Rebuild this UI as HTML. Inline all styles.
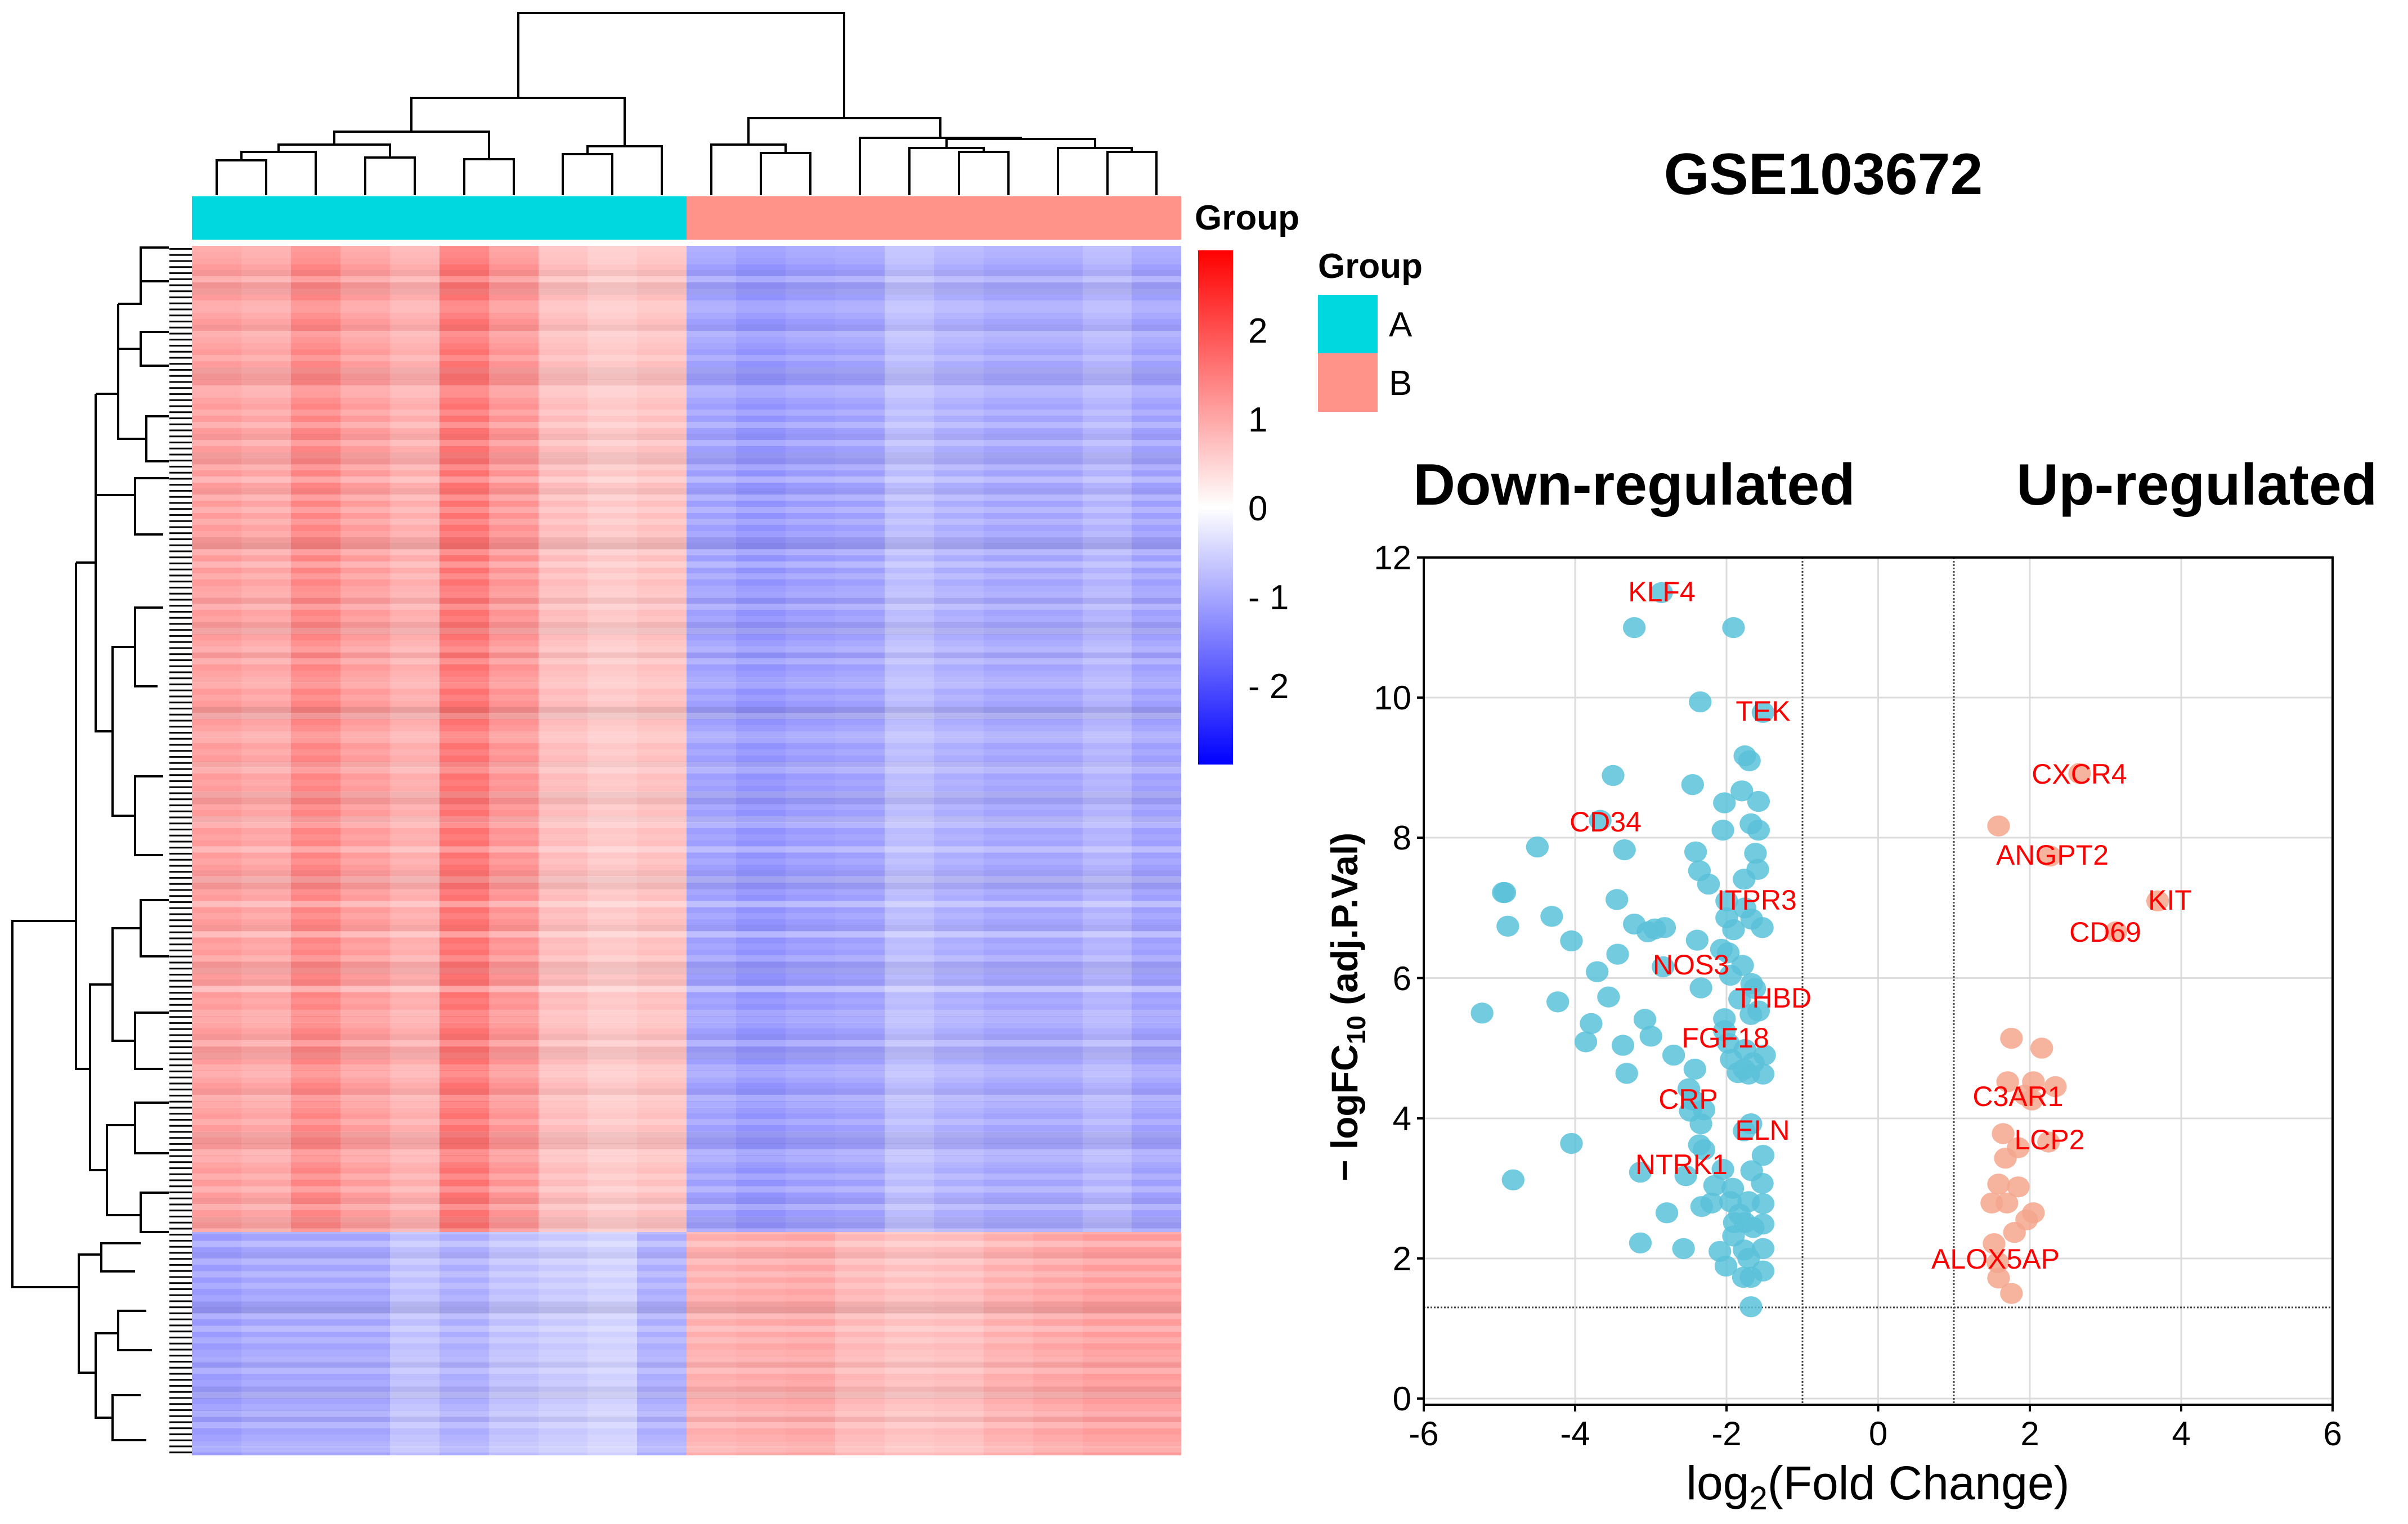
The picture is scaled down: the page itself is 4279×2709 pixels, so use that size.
<!DOCTYPE html>
<html><head><meta charset="utf-8">
<style>
html,body{margin:0;padding:0;background:#fff;}
svg{display:block;}
text{font-family:"Liberation Sans",Arial,sans-serif;}
</style></head>
<body>
<svg id="figsvg" width="4279" height="2709" viewBox="0 0 4279 2709">
<defs>
<linearGradient id="cbgrad" x1="0" y1="1" x2="0" y2="0">
<stop offset="0" stop-color="#0000ff"/><stop offset="0.5" stop-color="#ffffff"/><stop offset="1" stop-color="#ff0000"/>
</linearGradient>
<pattern id="stripes" x="0" y="437" width="4279" height="97" patternUnits="userSpaceOnUse">
<rect x="0" y="0" width="4279" height="11" fill="#fff" opacity="0.18"/>
<rect x="0" y="22" width="4279" height="11" fill="#fff" opacity="0.10"/>
<rect x="0" y="43" width="4279" height="11" fill="#000" opacity="0.04"/>
<rect x="0" y="54" width="4279" height="11" fill="#fff" opacity="0.22"/>
<rect x="0" y="76" width="4279" height="11" fill="#fff" opacity="0.08"/>
</pattern>
<pattern id="stripes2" x="0" y="437" width="88" height="151" patternUnits="userSpaceOnUse">
<rect x="0" y="11" width="88" height="11" fill="#fff" opacity="0.15"/>
<rect x="0" y="65" width="88" height="22" fill="#000" opacity="0.05"/>
<rect x="0" y="108" width="88" height="11" fill="#fff" opacity="0.2"/>
</pattern>
<pattern id="leaves" x="0" y="437" width="40" height="10.75" patternUnits="userSpaceOnUse">
<rect x="0" y="4" width="40" height="3" fill="#000"/>
</pattern>
</defs>

<g id="heatg">
<g>
<rect x="341" y="437" width="88" height="1753" fill="rgb(255,155,155)"/>
<rect x="429" y="437" width="88" height="1753" fill="rgb(255,164,164)"/>
<rect x="517" y="437" width="88" height="1753" fill="rgb(255,132,132)"/>
<rect x="605" y="437" width="88" height="1753" fill="rgb(255,155,155)"/>
<rect x="693" y="437" width="88" height="1753" fill="rgb(255,173,173)"/>
<rect x="781" y="437" width="88" height="1753" fill="rgb(255,114,114)"/>
<rect x="869" y="437" width="88" height="1753" fill="rgb(255,146,146)"/>
<rect x="957" y="437" width="88" height="1753" fill="rgb(255,187,187)"/>
<rect x="1044" y="437" width="88" height="1753" fill="rgb(255,200,200)"/>
<rect x="1132" y="437" width="89" height="1753" fill="rgb(255,191,191)"/>
<rect x="1220" y="437" width="88" height="1753" fill="rgb(159,159,255)"/>
<rect x="1308" y="437" width="88" height="1753" fill="rgb(146,146,255)"/>
<rect x="1396" y="437" width="88" height="1753" fill="rgb(155,155,255)"/>
<rect x="1484" y="437" width="88" height="1753" fill="rgb(159,159,255)"/>
<rect x="1572" y="437" width="88" height="1753" fill="rgb(187,187,255)"/>
<rect x="1660" y="437" width="88" height="1753" fill="rgb(173,173,255)"/>
<rect x="1748" y="437" width="88" height="1753" fill="rgb(164,164,255)"/>
<rect x="1836" y="437" width="88" height="1753" fill="rgb(164,164,255)"/>
<rect x="1924" y="437" width="88" height="1753" fill="rgb(178,178,255)"/>
<rect x="2011" y="437" width="88" height="1753" fill="rgb(159,159,255)"/>
<rect x="341" y="2190" width="88" height="397" fill="rgb(155,155,255)"/>
<rect x="429" y="2190" width="88" height="397" fill="rgb(164,164,255)"/>
<rect x="517" y="2190" width="88" height="397" fill="rgb(164,164,255)"/>
<rect x="605" y="2190" width="88" height="397" fill="rgb(164,164,255)"/>
<rect x="693" y="2190" width="88" height="397" fill="rgb(191,191,255)"/>
<rect x="781" y="2190" width="88" height="397" fill="rgb(173,173,255)"/>
<rect x="869" y="2190" width="88" height="397" fill="rgb(191,191,255)"/>
<rect x="957" y="2190" width="88" height="397" fill="rgb(200,200,255)"/>
<rect x="1044" y="2190" width="88" height="397" fill="rgb(209,209,255)"/>
<rect x="1132" y="2190" width="89" height="397" fill="rgb(173,173,255)"/>
<rect x="1220" y="2190" width="88" height="397" fill="rgb(255,173,173)"/>
<rect x="1308" y="2190" width="88" height="397" fill="rgb(255,168,168)"/>
<rect x="1396" y="2190" width="88" height="397" fill="rgb(255,164,164)"/>
<rect x="1484" y="2190" width="88" height="397" fill="rgb(255,182,182)"/>
<rect x="1572" y="2190" width="88" height="397" fill="rgb(255,191,191)"/>
<rect x="1660" y="2190" width="88" height="397" fill="rgb(255,187,187)"/>
<rect x="1748" y="2190" width="88" height="397" fill="rgb(255,173,173)"/>
<rect x="1836" y="2190" width="88" height="397" fill="rgb(255,164,164)"/>
<rect x="1924" y="2190" width="88" height="397" fill="rgb(255,155,155)"/>
<rect x="2011" y="2190" width="88" height="397" fill="rgb(255,155,155)"/>
<rect x="341" y="437" width="1758" height="2150" fill="url(#stripes)"/>
<rect x="341" y="437" width="1758" height="2150" fill="url(#stripes2)"/>
</g>
<rect x="341" y="349" width="879" height="77" fill="#00d8e0"/>
<rect x="1220" y="349" width="879" height="77" fill="#ff938a"/>
<g stroke="#000" stroke-width="4" fill="none">
<path d="M385,347V285H473V347"/><path d="M429,285V270H561V347"/><path d="M649,347V280H737V347"/>
<path d="M495,270V257H693V280"/><path d="M825,347V283H913V347"/><path d="M594,257V234H869V283"/>
<path d="M1000,347V274H1088V347"/><path d="M1044,274V260H1176V347"/><path d="M731,234V174H1110V260"/>
<path d="M1352,347V272H1440V347"/><path d="M1264,347V257H1396V272"/><path d="M1704,347V270H1792V347"/>
<path d="M1616,347V263H1748V270"/><path d="M1968,347V270H2055V347"/><path d="M1880,347V263H2011V270"/>
<path d="M1682,263V247H1946V263"/><path d="M1528,347V245H1814V247"/><path d="M1330,257V210H1671V245"/>
<path d="M921,174V23H1500V210"/>
</g>
<g stroke="#000" stroke-width="4" fill="none">
<rect x="301" y="437" width="40" height="2150" fill="url(#leaves)" stroke="none"/>
<path d="M135,1637H22V2288H140"/>
<path d="M135,1000V1637"/><path d="M135,1000H170V700M170,700H210V540M210,540H250V470M210,540V620H250"/>
<path d="M170,1000V1300H200M200,1300V1150H240M200,1300V1450H240"/>
<path d="M135,1637V1900H160M160,1900V1750H200M160,1900V2080H190"/>
<path d="M200,1750V1650H250M200,1750V1850H240M190,2080V2000H240M190,2080V2160H250"/>
<path d="M140,2288V2230H180M140,2288V2440H170M180,2230V2210H250M180,2230V2260H240"/>
<path d="M170,2440V2370H210M170,2440V2520H200M210,2370V2330H260M210,2370V2400H270M200,2520V2480H250M200,2520V2560H260"/>
<path d="M250,470V440H300M250,470V500H300M250,620V590H300M250,620V650H300M210,700V780H260M260,780V740H300M260,780V820H300"/>
<path d="M240,1150V1080H290M240,1150V1220H280M240,1450V1380H290M240,1450V1520H290M170,700V880H240M240,880V850H300M240,880V950H290"/>
<path d="M250,1650V1600H300M250,1650V1700H300M240,1850V1800H300M240,1850V1900H290M240,2000V1960H300M240,2000V2050H300M250,2160V2120H300M250,2160V2190H300"/>
</g>
<text x="2218" y="609" font-size="62">2</text>
<text x="2218" y="767" font-size="62">1</text>
<text x="2218" y="925" font-size="62">0</text>
<text x="2218" y="1083" font-size="62">- 1</text>
<text x="2218" y="1241" font-size="62">- 2</text>
</g>

<g id="volcg">
<g stroke="#dcdcdc" stroke-width="3">
<line x1="2799" x2="2799" y1="991" y2="2497"/><line x1="3068" x2="3068" y1="991" y2="2497"/><line x1="3337.5" x2="3337.5" y1="991" y2="2497"/><line x1="3607" x2="3607" y1="991" y2="2497"/><line x1="3876" x2="3876" y1="991" y2="2497"/>
<line x1="2530" x2="4145" y1="2486" y2="2486"/><line x1="2530" x2="4145" y1="2237" y2="2237"/><line x1="2530" x2="4145" y1="1988" y2="1988"/><line x1="2530" x2="4145" y1="1738.5" y2="1738.5"/><line x1="2530" x2="4145" y1="1489" y2="1489"/><line x1="2530" x2="4145" y1="1240" y2="1240"/>
</g>
<g stroke="#444" stroke-width="3" stroke-dasharray="3 3">
<line x1="3203" x2="3203" y1="991" y2="2497"/><line x1="3472" x2="3472" y1="991" y2="2497"/><line x1="2530" x2="4145" y1="2324" y2="2324"/>
</g>
<g id="ptsg" transform="translate(3337.5,2486) scale(134.58,-124.58)" fill-opacity="0.85">
<g id="downg" fill="#5bc2d9">
<circle cx="-2.86" cy="11.5" r=".15"/><circle cx="-3.22" cy="11" r=".15"/><circle cx="-1.91" cy="11" r=".15"/><circle cx="-2.35" cy="9.94" r=".15"/><circle cx="-1.52" cy="9.79" r=".15"/><circle cx="-1.76" cy="9.17" r=".15"/><circle cx="-1.7" cy="9.1" r=".15"/><circle cx="-3.5" cy="8.89" r=".15"/><circle cx="-2.45" cy="8.76" r=".15"/><circle cx="-1.8" cy="8.67" r=".15"/>
<circle cx="-2.03" cy="8.5" r=".15"/><circle cx="-1.58" cy="8.52" r=".15"/><circle cx="-1.68" cy="8.2" r=".15"/><circle cx="-1.58" cy="8.11" r=".15"/><circle cx="-2.05" cy="8.11" r=".15"/><circle cx="-3.67" cy="8.25" r=".15"/><circle cx="-4.5" cy="7.87" r=".15"/><circle cx="-3.35" cy="7.83" r=".15"/><circle cx="-2.41" cy="7.8" r=".15"/><circle cx="-1.62" cy="7.78" r=".15"/>
<circle cx="-2.36" cy="7.53" r=".15"/><circle cx="-1.59" cy="7.55" r=".15"/><circle cx="-2.24" cy="7.34" r=".15"/><circle cx="-1.77" cy="7.41" r=".15"/><circle cx="-4.95" cy="7.22" r=".15"/><circle cx="-4.93" cy="7.22" r=".15"/><circle cx="-3.45" cy="7.12" r=".15"/><circle cx="-2" cy="7.1" r=".15"/><circle cx="-1.76" cy="7" r=".15"/><circle cx="-4.31" cy="6.88" r=".15"/>
<circle cx="-2" cy="6.86" r=".15"/><circle cx="-1.67" cy="6.84" r=".15"/><circle cx="-3.22" cy="6.77" r=".15"/><circle cx="-4.89" cy="6.74" r=".15"/><circle cx="-3.04" cy="6.66" r=".15"/><circle cx="-2.95" cy="6.7" r=".15"/><circle cx="-2.82" cy="6.72" r=".15"/><circle cx="-1.91" cy="6.69" r=".15"/><circle cx="-1.53" cy="6.72" r=".15"/><circle cx="-4.05" cy="6.53" r=".15"/>
<circle cx="-2.39" cy="6.54" r=".15"/><circle cx="-2.07" cy="6.41" r=".15"/><circle cx="-1.98" cy="6.36" r=".15"/><circle cx="-3.44" cy="6.34" r=".15"/><circle cx="-1.79" cy="6.18" r=".15"/><circle cx="-3.71" cy="6.09" r=".15"/><circle cx="-2.84" cy="6.16" r=".15"/><circle cx="-1.95" cy="6.04" r=".15"/><circle cx="-1.67" cy="5.92" r=".15"/><circle cx="-1.63" cy="5.85" r=".15"/>
<circle cx="-2.34" cy="5.86" r=".15"/><circle cx="-3.56" cy="5.73" r=".15"/><circle cx="-4.23" cy="5.66" r=".15"/><circle cx="-5.23" cy="5.5" r=".15"/><circle cx="-1.83" cy="5.7" r=".15"/><circle cx="-1.58" cy="5.53" r=".15"/><circle cx="-1.68" cy="5.48" r=".15"/><circle cx="-2.03" cy="5.42" r=".15"/><circle cx="-3.08" cy="5.41" r=".15"/><circle cx="-3.79" cy="5.35" r=".15"/>
<circle cx="-2.03" cy="5.25" r=".15"/><circle cx="-3" cy="5.17" r=".15"/><circle cx="-3.86" cy="5.09" r=".15"/><circle cx="-3.37" cy="5.04" r=".15"/><circle cx="-1.98" cy="5.07" r=".15"/><circle cx="-1.76" cy="4.98" r=".15"/><circle cx="-1.5" cy="4.9" r=".15"/><circle cx="-2.7" cy="4.9" r=".15"/><circle cx="-1.94" cy="4.84" r=".15"/><circle cx="-1.65" cy="4.79" r=".15"/>
<circle cx="-2.42" cy="4.7" r=".15"/><circle cx="-1.77" cy="4.7" r=".15"/><circle cx="-1.85" cy="4.65" r=".15"/><circle cx="-1.71" cy="4.63" r=".15"/><circle cx="-1.52" cy="4.63" r=".15"/><circle cx="-3.32" cy="4.64" r=".15"/><circle cx="-2.5" cy="4.42" r=".15"/><circle cx="-2.45" cy="4.26" r=".15"/><circle cx="-2.48" cy="4.1" r=".15"/><circle cx="-2.3" cy="4.12" r=".15"/>
<circle cx="-1.68" cy="3.92" r=".15"/><circle cx="-1.77" cy="3.82" r=".15"/><circle cx="-2.34" cy="3.92" r=".15"/><circle cx="-4.05" cy="3.64" r=".15"/><circle cx="-2.36" cy="3.62" r=".15"/><circle cx="-2.3" cy="3.55" r=".15"/><circle cx="-1.52" cy="3.47" r=".15"/><circle cx="-4.82" cy="3.12" r=".15"/><circle cx="-3.14" cy="3.23" r=".15"/><circle cx="-2.54" cy="3.18" r=".15"/>
<circle cx="-1.67" cy="3.25" r=".15"/><circle cx="-2.05" cy="3.27" r=".15"/><circle cx="-1.53" cy="3.07" r=".15"/><circle cx="-2.16" cy="3.04" r=".15"/><circle cx="-1.92" cy="3" r=".15"/><circle cx="-1.95" cy="2.81" r=".15"/><circle cx="-1.71" cy="2.81" r=".15"/><circle cx="-1.52" cy="2.78" r=".15"/><circle cx="-2.2" cy="2.79" r=".15"/><circle cx="-2.33" cy="2.74" r=".15"/>
<circle cx="-2.79" cy="2.65" r=".15"/><circle cx="-1.83" cy="2.63" r=".15"/><circle cx="-1.9" cy="2.51" r=".15"/><circle cx="-1.76" cy="2.51" r=".15"/><circle cx="-1.65" cy="2.44" r=".15"/><circle cx="-1.52" cy="2.49" r=".15"/><circle cx="-1.91" cy="2.32" r=".15"/><circle cx="-3.14" cy="2.22" r=".15"/><circle cx="-2.57" cy="2.14" r=".15"/><circle cx="-2.09" cy="2.1" r=".15"/>
<circle cx="-1.77" cy="2.12" r=".15"/><circle cx="-1.52" cy="2.14" r=".15"/><circle cx="-1.71" cy="2" r=".15"/><circle cx="-2.01" cy="1.89" r=".15"/><circle cx="-1.52" cy="1.82" r=".15"/><circle cx="-1.78" cy="1.73" r=".15"/><circle cx="-1.68" cy="1.73" r=".15"/><circle cx="-1.68" cy="1.31" r=".15"/>
</g>
<g id="upg" fill="#f5a68d">
<circle cx="2.66" cy="8.92" r=".15"/><circle cx="1.59" cy="8.17" r=".15"/><circle cx="2.27" cy="7.74" r=".15"/><circle cx="3.69" cy="7.1" r=".15"/><circle cx="3.14" cy="6.66" r=".15"/><circle cx="1.76" cy="5.14" r=".15"/><circle cx="2.16" cy="5" r=".15"/><circle cx="1.71" cy="4.52" r=".15"/><circle cx="2.05" cy="4.52" r=".15"/>
<circle cx="2.34" cy="4.45" r=".15"/><circle cx="1.94" cy="4.33" r=".15"/><circle cx="2.03" cy="4.26" r=".15"/><circle cx="1.65" cy="3.78" r=".15"/><circle cx="2.25" cy="3.66" r=".15"/><circle cx="1.85" cy="3.58" r=".15"/><circle cx="1.68" cy="3.43" r=".15"/><circle cx="1.59" cy="3.06" r=".15"/><circle cx="1.85" cy="3.02" r=".15"/>
<circle cx="1.5" cy="2.79" r=".15"/><circle cx="1.7" cy="2.79" r=".15"/><circle cx="2.05" cy="2.65" r=".15"/><circle cx="1.96" cy="2.55" r=".15"/><circle cx="1.8" cy="2.37" r=".15"/><circle cx="1.53" cy="2.21" r=".15"/><circle cx="1.58" cy="1.94" r=".15"/><circle cx="1.59" cy="1.72" r=".15"/><circle cx="1.76" cy="1.5" r=".15"/>
</g>
</g>
<g font-size="50" fill="#ff0000" text-anchor="middle">
<text x="2953" y="1069">KLF4</text><text x="3133" y="1281">TEK</text><text x="3695" y="1393">CXCR4</text><text x="2853" y="1478">CD34</text>
<text x="3647" y="1537">ANGPT2</text><text x="3856" y="1617">KIT</text><text x="3122" y="1617">ITPR3</text><text x="3741" y="1674">CD69</text>
<text x="3005" y="1732">NOS3</text><text x="3151" y="1791">THBD</text><text x="3066" y="1862">FGF18</text><text x="3000" y="1971">CRP</text>
<text x="3586" y="1966">C3AR1</text><text x="3132" y="2026">ELN</text><text x="3642" y="2043">LCP2</text><text x="2988" y="2087">NTRK1</text><text x="3546" y="2255">ALOX5AP</text>
</g>
<rect x="2530" y="991" width="1615" height="1506" fill="none" stroke="#000" stroke-width="4"/>
<g stroke="#000" stroke-width="4">
<line x1="2530" x2="2530" y1="2497" y2="2509"/><line x1="2799" x2="2799" y1="2497" y2="2509"/><line x1="3068" x2="3068" y1="2497" y2="2509"/><line x1="3337.5" x2="3337.5" y1="2497" y2="2509"/><line x1="3607" x2="3607" y1="2497" y2="2509"/><line x1="3876" x2="3876" y1="2497" y2="2509"/><line x1="4145" x2="4145" y1="2497" y2="2509"/>
<line x1="2518" x2="2530" y1="2486" y2="2486"/><line x1="2518" x2="2530" y1="2237" y2="2237"/><line x1="2518" x2="2530" y1="1988" y2="1988"/><line x1="2518" x2="2530" y1="1738.5" y2="1738.5"/><line x1="2518" x2="2530" y1="1489" y2="1489"/><line x1="2518" x2="2530" y1="1240" y2="1240"/><line x1="2518" x2="2530" y1="991" y2="991"/>
</g>
<g font-size="60" text-anchor="middle">
<text x="2530" y="2569">-6</text><text x="2799" y="2569">-4</text><text x="3068" y="2569">-2</text><text x="3337.5" y="2569">0</text><text x="3607" y="2569">2</text><text x="3876" y="2569">4</text><text x="4145" y="2569">6</text>
</g>
<g font-size="60" text-anchor="end">
<text x="2508" y="2507">0</text><text x="2508" y="2258">2</text><text x="2508" y="2009">4</text><text x="2508" y="1760">6</text><text x="2508" y="1510">8</text><text x="2508" y="1261">10</text><text x="2508" y="1012">12</text>
</g>
</g>

<text x="3240" y="345" font-size="104" font-weight="bold" text-anchor="middle">GSE103672</text>
<text x="2511" y="897" font-size="104" font-weight="bold">Down-regulated</text>
<text x="3583" y="897" font-size="104" font-weight="bold">Up-regulated</text>
<text x="3337" y="2665" font-size="84" text-anchor="middle">log<tspan font-size="58" dy="18">2</tspan><tspan dy="-18">(Fold Change)</tspan></text>
<text x="0" y="0" font-size="66" font-weight="bold" text-anchor="middle" transform="translate(2412,1790) rotate(-90)">− logFC<tspan font-size="46" dy="14">10</tspan><tspan dy="-14"> (adj.P.Val)</tspan></text>
<text x="2123" y="408" font-size="62" font-weight="bold">Group</text>
<rect x="2129" y="445" width="62" height="914" fill="url(#cbgrad)"/>
<text x="2342" y="494" font-size="62" font-weight="bold">Group</text>
<rect x="2342" y="524" width="106" height="104" fill="#00d8e0"/>
<rect x="2342" y="628" width="106" height="104" fill="#ff938a"/>
<text x="2468" y="598" font-size="62">A</text>
<text x="2468" y="702" font-size="62">B</text>
</svg>
<script>
var downX=[-2.86,-3.22,-1.91,-2.35,-1.52,-1.76,-1.70,-3.5,-2.45,-1.8,-2.03,-1.58,-1.68,-1.58,-2.05,-3.67,-4.5,-3.35,-2.41,-1.62,-2.36,-1.59,-2.24,-1.77,-4.95,-4.93,-3.45,-2.0,-1.76,-4.31,-2.0,-1.67,-3.22,-4.89,-3.04,-2.95,-2.82,-1.91,-1.53,-4.05,-2.39,-2.07,-1.98,-3.44,-1.79,-3.71,-2.84,-1.95,-1.67,-1.63,-2.34,-3.56,-4.23,-5.23,-1.83,-1.58,-1.68,-2.03,-3.08,-3.79,-2.03,-3.0,-3.86,-3.37,-1.98,-1.76,-1.5,-2.7,-1.94,-1.65,-2.42,-1.77,-1.85,-1.71,-1.52,-3.32,-2.5,-2.45,-2.48,-2.3,-1.68,-1.77,-2.34,-4.05,-2.36,-2.3,-1.52,-4.82,-3.14,-2.54,-1.67,-2.05,-1.53,-2.16,-1.92,-1.95,-1.71,-1.52,-2.2,-2.33,-2.79,-1.83,-1.9,-1.76,-1.65,-1.52,-1.91,-3.14,-2.57,-2.09,-1.77,-1.52,-1.71,-2.01,-1.52,-1.78,-1.68,-1.68];
var downY=[11.5,11.0,11.0,9.94,9.79,9.17,9.1,8.89,8.76,8.67,8.5,8.52,8.2,8.11,8.11,8.25,7.87,7.83,7.8,7.78,7.53,7.55,7.34,7.41,7.22,7.22,7.12,7.1,7.0,6.88,6.86,6.84,6.77,6.74,6.66,6.7,6.72,6.69,6.72,6.53,6.54,6.41,6.36,6.34,6.18,6.09,6.16,6.04,5.92,5.85,5.86,5.73,5.66,5.5,5.7,5.53,5.48,5.42,5.41,5.35,5.25,5.17,5.09,5.04,5.07,4.98,4.9,4.9,4.84,4.79,4.7,4.7,4.65,4.63,4.63,4.64,4.42,4.26,4.1,4.12,3.92,3.82,3.92,3.64,3.62,3.55,3.47,3.12,3.23,3.18,3.25,3.27,3.07,3.04,3.0,2.81,2.81,2.78,2.79,2.74,2.65,2.63,2.51,2.51,2.44,2.49,2.32,2.22,2.14,2.1,2.12,2.14,2.0,1.89,1.82,1.73,1.73,1.31];
var upX=[2.66,1.59,2.27,3.69,3.14,1.76,2.16,1.71,2.05,2.34,1.94,2.03,1.65,2.25,1.85,1.68,1.59,1.85,1.5,1.7,2.05,1.96,1.8,1.53,1.58,1.59,1.76];
var upY=[8.92,8.17,7.74,7.1,6.66,5.14,5.0,4.52,4.52,4.45,4.33,4.26,3.78,3.66,3.58,3.43,3.06,3.02,2.79,2.79,2.65,2.55,2.37,2.21,1.94,1.72,1.5];
function redrawPoints(){
 try{
  var dg=document.getElementById('downg'), ug=document.getElementById('upg');
  if(!dg||!ug)return;
  var ns=dg.namespaceURI;
  function fill(g,xs,ys,name){
   while(g.firstChild)g.removeChild(g.firstChild);
   for(var i=0;i<xs.length;i++){
    var c=document.createElementNS(ns,'circle');
    c.setAttribute('cx',xs[i]);c.setAttribute('cy',ys[i]);c.setAttribute('r','0.15');
    
    
    g.appendChild(c);}
  }
  fill(dg,downX,downY,'down-gene-point');
  fill(ug,upX,upY,'up-gene-point');
 }catch(e){}
}
if(document.readyState==='loading'){document.addEventListener('DOMContentLoaded',redrawPoints);}else{redrawPoints();}
</script>
</body></html>
